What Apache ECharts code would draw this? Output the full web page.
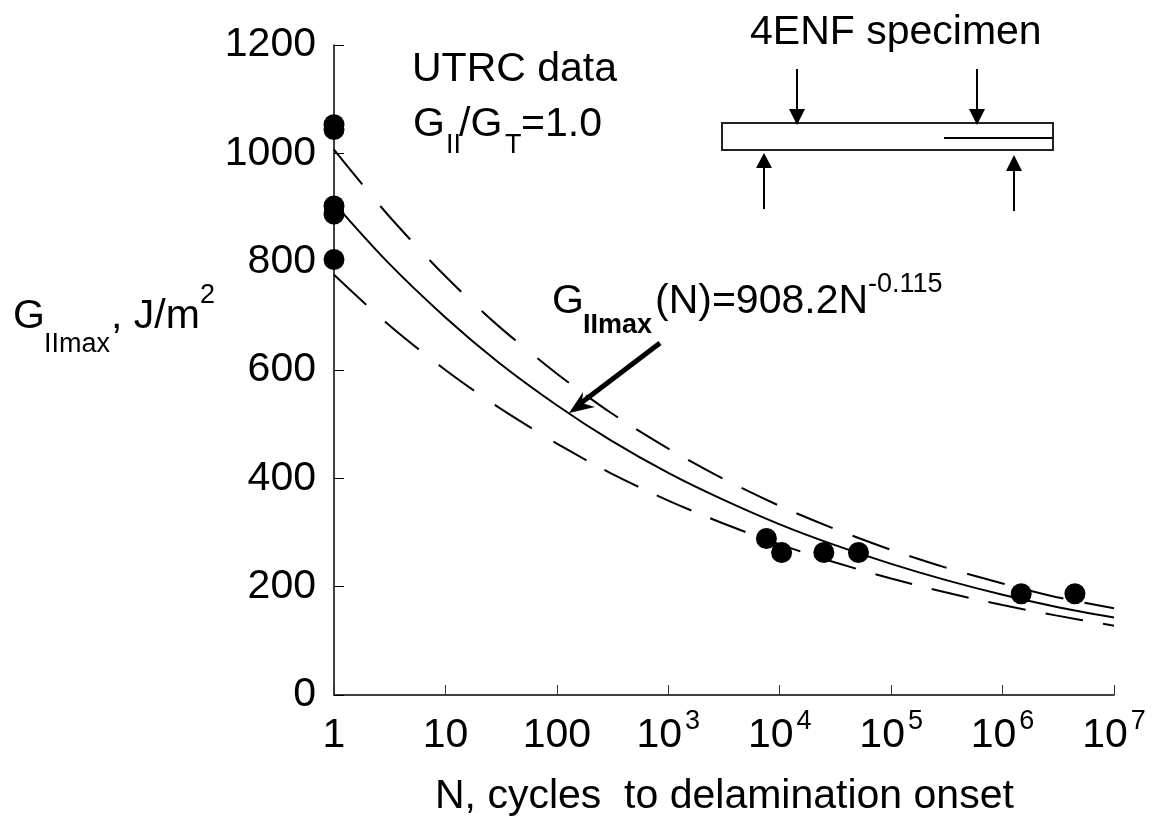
<!DOCTYPE html>
<html>
<head>
<meta charset="utf-8">
<style>
html, body { margin: 0; padding: 0; background: #fff; }
#chart { width: 1152px; height: 823px; }
</style>
<script src="https://cdn.jsdelivr.net/npm/echarts@6/dist/echarts.min.js"></script>
</head>
<body>
<div id="chart"></div>
<script>
// curves, half decade steps
var cycles = [1, 3, 10, 30, 100, 300, 1e3, 3e3, 1e4, 3e4, 1e5, 3e5, 1e6, 3e6, 1e7];
var meanCurve = [908, 800, 697, 614, 535, 471, 410, 362, 315, 278, 242, 213, 185, 163, 143];
var upperCurve = [1007, 888, 773, 681, 593, 522, 455, 401, 349, 308, 268, 236, 206, 181, 160];
var lowerCurve = [776, 686, 600, 531, 464, 410, 359, 318, 278, 246, 215, 190, 166, 147, 128];
// test points
var testCycles = [1, 1, 1, 1, 1, 7600, 10400, 24900, 50900, 1470000, 4460000];
var testG = [1053, 1044, 903, 888, 804, 289, 263, 263, 263, 187, 187];
var xTickLabels = ['{b|1}', '{b|10}', '{b|100}', '{b|10}{s|3}', '{b|10}{s|4}', '{b|10}{s|5}', '{b|10}{s|6}', '{b|10}{s|7}'];
var yTicks = [0, 200, 400, 600, 800, 1000, 1200];

var font = '"Liberation Sans", Arial, sans-serif';
var dashBreak = 4; // dashes get shorter past N=100

function pairs(xs, ys) {
    return xs.map(function (x, i) { return [x, ys[i]]; });
}

function dashed(name, values, from, to, dash, offset) {
    return {
        name: name,
        type: 'line',
        smooth: 0.3,
        showSymbol: false,
        data: pairs(cycles, values).slice(from, to),
        lineStyle: { color: '#000', width: 2, type: dash, dashOffset: offset }
    };
}

// text placed by its baseline
function label(text, x, baseline, size, bold) {
    return {
        type: 'text',
        z: 10,
        x: x,
        y: baseline - 0.26 * size,
        style: {
            text: text,
            fill: '#000',
            font: (bold ? 'bold ' : '') + size + 'px ' + font,
            verticalAlign: 'middle'
        }
    };
}

function stroke(x1, y1, x2, y2, width) {
    return {
        type: 'line',
        z: 10,
        shape: { x1: x1, y1: y1, x2: x2, y2: y2 },
        style: { stroke: '#000', lineWidth: width }
    };
}

function head(points) {
    return { type: 'polygon', z: 10, shape: { points: points }, style: { fill: '#000' } };
}

var myChart = echarts.init(document.getElementById('chart'));
var option = {
    animation: false,
    backgroundColor: '#fff',
    grid: { left: 334, right: 38, top: 45, height: 650 },
    xAxis: {
        type: 'log',
        logBase: 10,
        min: 1,
        max: 1e7,
        splitLine: { show: false },
        minorTick: { show: false },
        axisLine: { lineStyle: { color: '#000', width: 1.5 } },
        axisTick: { inside: true, length: 10, lineStyle: { color: '#333', width: 1 } },
        axisLabel: {
            margin: 13,
            color: '#000',
            formatter: function (v, i) { return xTickLabels[i]; },
            rich: {
                b: { fontFamily: font, fontSize: 41, lineHeight: 48, verticalAlign: 'bottom' },
                s: { fontFamily: font, fontSize: 27, lineHeight: 25, verticalAlign: 'top', padding: [0, 0, 0, 3] }
            }
        }
    },
    yAxis: {
        type: 'value',
        min: yTicks[0],
        max: yTicks[yTicks.length - 1],
        interval: 200,
        splitLine: { show: false },
        axisLine: { onZero: false, lineStyle: { color: '#000', width: 1.5 } },
        axisTick: { inside: true, length: 10, lineStyle: { color: '#000', width: 1 } },
        axisLabel: {
            margin: 18,
            color: '#000',
            fontFamily: font,
            fontSize: 41,
            padding: [0, 0, 16, 0],
            formatter: function (v) { return String(v); }
        }
    },
    series: [
        dashed('upper', upperCurve, 0, dashBreak + 1, [45, 28], 0),
        dashed('upper', upperCurve, dashBreak, cycles.length, [39, 21.4], 24),
        {
            name: 'mean',
            type: 'line',
            smooth: 0.3,
            showSymbol: false,
            data: pairs(cycles, meanCurve),
            lineStyle: { color: '#000', width: 2 }
        },
        dashed('lower', lowerCurve, 0, dashBreak + 1, [44, 25], 0),
        dashed('lower', lowerCurve, dashBreak, cycles.length, [38, 20.2], 4),
        {
            name: 'UTRC data',
            type: 'scatter',
            symbolSize: 21,
            clip: false,
            z: 5,
            data: pairs(testCycles, testG),
            itemStyle: { color: '#000', opacity: 1 }
        }
    ],
    graphic: [
        // y axis title
        label('G', 13, 327, 41),
        label('IImax', 44, 352, 27),
        label(', J/m', 111, 327, 41),
        label('2', 200, 303, 27),
        // x axis title
        label('N, cycles  to delamination onset', 435, 807, 41),
        // notes
        label('UTRC data', 412, 80, 41),
        label('G', 413, 135, 41),
        label('II', 446, 153, 27),
        label('/G', 459, 135, 41),
        label('T', 505, 153, 27),
        label('=1.0', 521, 135, 41),
        label('4ENF specimen', 750, 43, 41),
        // curve formula
        label('G', 552, 312, 41),
        label('IImax', 583, 333, 27, true),
        label('(N)=908.2N', 655, 312, 41),
        label('-0.115', 868, 292, 27),
        stroke(660, 343, 581, 403, 5),
        head([[569, 413], [583, 392], [582, 403], [595, 407]]),
        // specimen sketch
        {
            type: 'rect',
            z: 10,
            shape: { x: 722, y: 123, width: 331, height: 27 },
            style: { fill: 'none', stroke: '#222', lineWidth: 2 }
        },
        stroke(944, 138, 1053, 138, 2),
        stroke(797, 69, 797, 110, 2),
        head([[789, 109], [805, 109], [797, 125]]),
        stroke(977, 69, 977, 110, 2),
        head([[969, 109], [985, 109], [977, 125]]),
        stroke(764, 209, 764, 167, 2),
        head([[756, 168], [772, 168], [764, 153]]),
        stroke(1014, 211, 1014, 170, 2),
        head([[1006, 171], [1022, 171], [1014, 155]])
    ]
};
myChart.setOption(option);
</script>
</body>
</html>
